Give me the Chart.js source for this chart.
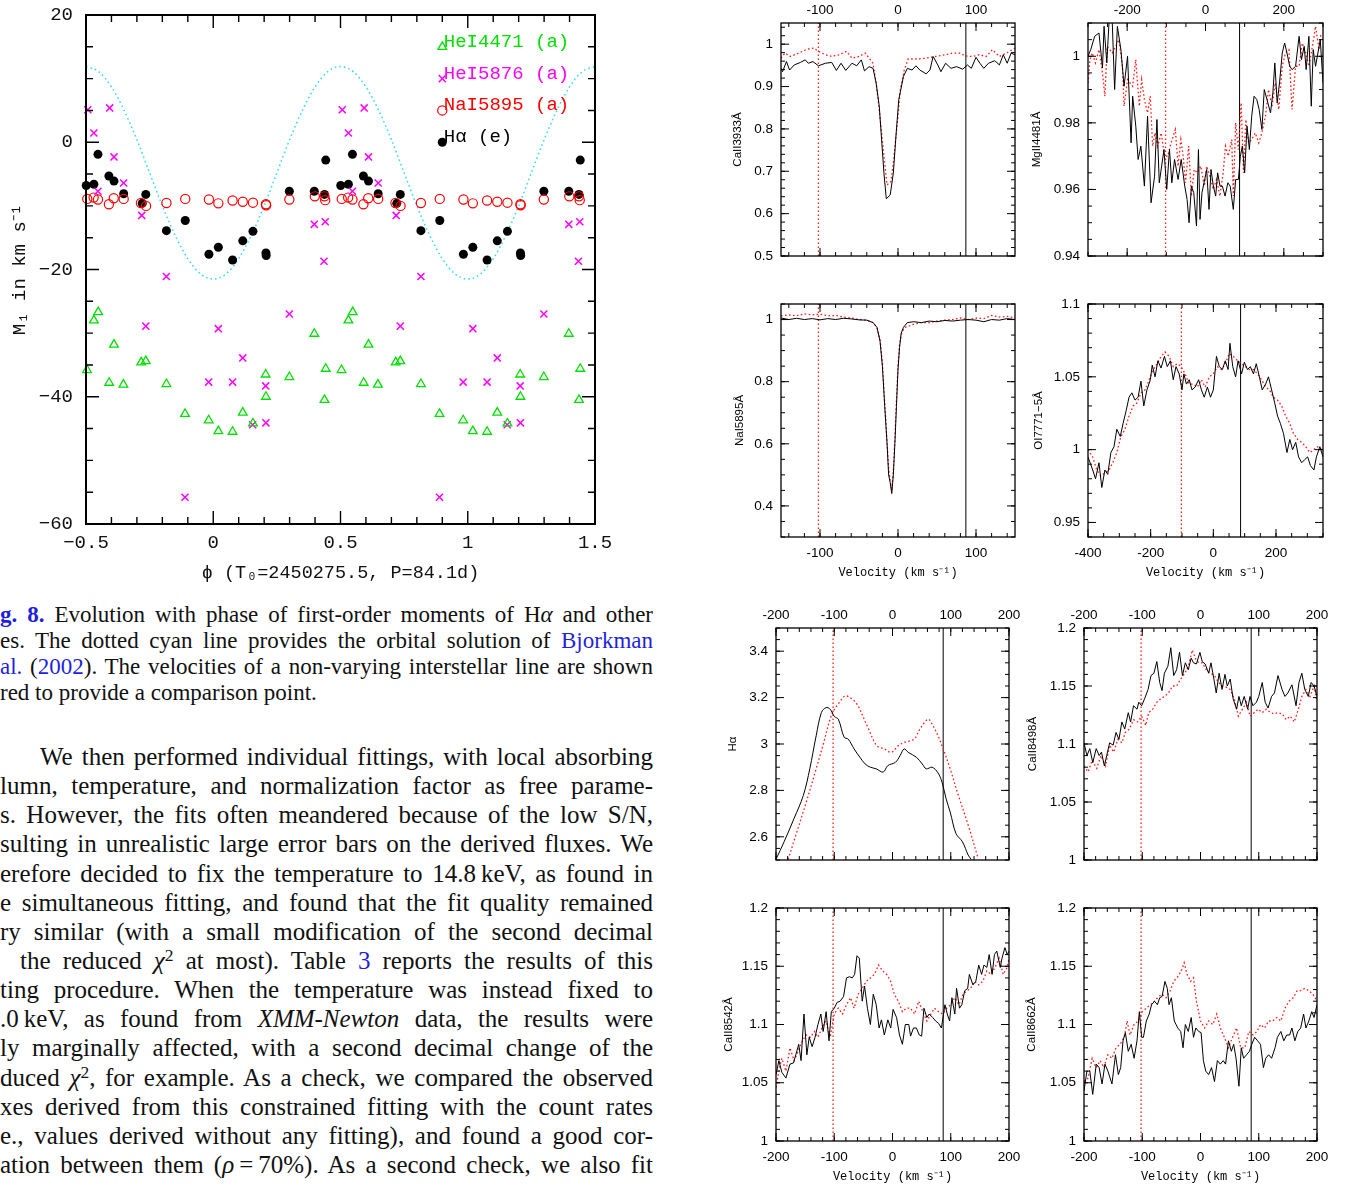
<!DOCTYPE html>
<html lang="en">
<head>
<meta charset="utf-8">
<title>Phase moments and line profiles</title>
<script src="https://cdn.jsdelivr.net/npm/chart.js@4.4.1/dist/chart.umd.min.js"></script>
<style>
  html, body { margin: 0; padding: 0; background: #fff; }
  body { position: relative; width: 1347px; height: 1186px; overflow: hidden; }
  canvas { position: absolute; }
  .ln { position: absolute; left: 0; width: 653px; font-family: "Liberation Serif", "Times New Roman", serif; color: #111; text-align: justify; text-align-last: justify; overflow: hidden; white-space: normal; }
  .cap { font-size: 23px; line-height: 26px; height: 26px; }
  .par { font-size: 25px; line-height: 29px; height: 29px; }
  .end { text-align-last: left; }
  .blue { color: #1f1fe0; }
  sup { font-size: 0.7em; line-height: 0; vertical-align: 0.45em; }
</style>
</head>
<body>

<div class="ln cap" style="top:602px"><b class="blue">g. 8.</b> Evolution with phase of first-order moments of H<i>α</i> and other</div>
<div class="ln cap" style="top:628px">es. The dotted cyan line provides the orbital solution of <span class="blue">Bjorkman</span></div>
<div class="ln cap" style="top:654px"><span class="blue">al.</span> (<span class="blue">2002</span>). The velocities of a non-varying interstellar line are shown</div>
<div class="ln cap end" style="top:680px">red to provide a comparison point.</div>

<div class="ln par" style="top:742px;left:40px;width:613px">We then performed individual fittings, with local absorbing</div>
<div class="ln par" style="top:771px">lumn, temperature, and normalization factor as free parame-</div>
<div class="ln par" style="top:800px">s. However, the fits often meandered because of the low S/N,</div>
<div class="ln par" style="top:829px">sulting in unrealistic large error bars on the derived fluxes. We</div>
<div class="ln par" style="top:859px">erefore decided to fix the temperature to 14.8&thinsp;keV, as found in</div>
<div class="ln par" style="top:888px">e simultaneous fitting, and found that the fit quality remained</div>
<div class="ln par" style="top:917px">ry similar (with a small modification of the second decimal</div>
<div class="ln par" style="top:946px;left:20px;width:633px">the reduced <i>χ</i><sup>2</sup> at most). Table <span class="blue">3</span> reports the results of this</div>
<div class="ln par" style="top:975px">ting procedure. When the temperature was instead fixed to</div>
<div class="ln par" style="top:1004px">.0&thinsp;keV, as found from <i>XMM-Newton</i> data, the results were</div>
<div class="ln par" style="top:1033px">ly marginally affected, with a second decimal change of the</div>
<div class="ln par" style="top:1063px">duced <i>χ</i><sup>2</sup>, for example. As a check, we compared the observed</div>
<div class="ln par" style="top:1092px">xes derived from this constrained fitting with the count rates</div>
<div class="ln par" style="top:1121px">e., values derived without any fitting), and found a good cor-</div>
<div class="ln par" style="top:1150px">ation between them (<i>ρ</i>&thinsp;=&thinsp;70%). As a second check, we also fit</div>

<script>
// ---- main figure: first-order moments (km/s) against orbital phase ----
const phaseTicks = [-0.5, 0, 0.5, 1, 1.5];
const momentTicks = [-60, -40, -20, 0, 20];

// orbital solution (dotted cyan)
const orbitPhase = [-0.5, -0.45, -0.4, -0.35, -0.3, -0.25, -0.2, -0.15, -0.1, -0.05, 0,
  0.05, 0.1, 0.15, 0.2, 0.25, 0.3, 0.35, 0.4, 0.45, 0.5,
  0.55, 0.6, 0.65, 0.7, 0.75, 0.8, 0.85, 0.9, 0.95, 1,
  1.05, 1.1, 1.15, 1.2, 1.25, 1.3, 1.35, 1.4, 1.45, 1.5];
const orbitVel = [11.9, 11.1, 8.7, 5.0, 0.4, -4.8, -10.0, -14.6, -18.3, -20.7, -21.5,
  -20.7, -18.3, -14.6, -10.0, -4.8, 0.4, 5.0, 8.7, 11.1, 11.9,
  11.1, 8.7, 5.0, 0.4, -4.8, -10.0, -14.6, -18.3, -20.7, -21.5,
  -20.7, -18.3, -14.6, -10.0, -4.8, 0.4, 5.0, 8.7, 11.1, 11.9];

// measurements [phase, moment], phase in [-0.5, 0.5); shown again one cycle later
const heI4471 = [[-0.496, -35.8], [-0.469, -28.0], [-0.452, -26.7], [-0.409, -37.8], [-0.390, -31.8],
  [-0.353, -38.1], [-0.283, -34.6], [-0.265, -34.4], [-0.184, -38.0], [-0.111, -42.7], [-0.018, -43.7],
  [0.020, -45.4], [0.076, -45.5], [0.116, -42.5], [0.156, -44.2], [0.206, -36.5], [0.207, -40.0],
  [0.299, -36.9], [0.397, -30.1], [0.437, -40.5], [0.442, -35.6]];
const heI5876 = [[-0.493, 5.1], [-0.469, 1.45], [-0.453, -7.7], [-0.407, 5.4], [-0.390, -2.3],
  [-0.352, -6.4], [-0.281, -11.5], [-0.265, -28.9], [-0.184, -21.1], [-0.111, -55.8], [-0.018, -37.7],
  [0.020, -29.3], [0.076, -37.7], [0.116, -33.9], [0.155, -44.4], [0.206, -38.3], [0.207, -44.1],
  [0.299, -27.0], [0.397, -12.9], [0.435, -18.7], [0.440, -12.5]];
const naI5895 = [[-0.495, -8.9], [-0.470, -8.7], [-0.453, -9.0], [-0.410, -9.75], [-0.391, -8.8],
  [-0.352, -8.9], [-0.284, -9.55], [-0.264, -10.0], [-0.184, -9.55], [-0.110, -8.9], [-0.017, -9.0],
  [0.020, -9.6], [0.076, -9.15], [0.116, -9.35], [0.156, -9.5], [0.207, -9.75], [0.208, -9.9],
  [0.299, -9.0], [0.399, -8.5], [0.437, -8.5], [0.440, -9.1]];
const hAlpha = [[-0.499, -6.8], [-0.469, -6.6], [-0.453, -1.9], [-0.410, -5.3], [-0.390, -6.1],
  [-0.352, -8.1], [-0.279, -9.6], [-0.265, -8.2], [-0.184, -13.9], [-0.110, -12.3], [-0.017, -17.6],
  [0.020, -16.5], [0.076, -18.5], [0.116, -15.5], [0.156, -14.0], [0.207, -17.4], [0.208, -17.8],
  [0.299, -7.7], [0.397, -7.7], [0.437, -8.2], [0.442, -2.8]];

// ---- line profile panels: [velocity km/s, normalised flux] ----
const redMarkerVel = -102;
const blackMarkerVel = 87;

const velTicks150 = [-100, 0, 100];
const velTicks300 = [-200, 0, 200];
const velTicksOI = [-400, -200, 0, 200];
const velTicks200 = [-200, -100, 0, 100, 200];
const ca3933Ticks = [0.5, 0.6, 0.7, 0.8, 0.9, 1];
const mg4481Ticks = [0.94, 0.96, 0.98, 1];
const na5895Ticks = [0.4, 0.6, 0.8, 1];
const oi7771Ticks = [0.95, 1, 1.05, 1.1];
const hAlphaTicks = [2.6, 2.8, 3, 3.2, 3.4];
const caTripletTicks = [1, 1.05, 1.1, 1.15, 1.2];

const ca3933Black = [[-150, 0.943], [-148, 0.935], [-143, 0.959], [-139, 0.939], [-133, 0.951], [-125, 0.957],
  [-119, 0.963], [-115, 0.955], [-109, 0.959], [-102, 0.949], [-93, 0.955], [-85, 0.957], [-79, 0.938],
  [-73, 0.955], [-67, 0.938], [-59, 0.955], [-53, 0.949], [-47, 0.963], [-43, 0.937], [-37, 0.947],
  [-32, 0.943], [-28, 0.908], [-24, 0.853], [-21, 0.774], [-18, 0.695], [-15, 0.635], [-10, 0.644],
  [-6, 0.695], [-3, 0.774], [1, 0.869], [7, 0.924], [12, 0.943], [18, 0.939], [23, 0.949], [28, 0.939],
  [36, 0.930], [41, 0.939], [45, 0.971], [51, 0.951], [55, 0.935], [61, 0.955], [68, 0.943], [75, 0.947],
  [83, 0.941], [89, 0.951], [94, 0.943], [100, 0.969], [105, 0.955], [110, 0.943], [116, 0.955],
  [124, 0.961], [130, 0.951], [135, 0.975], [140, 0.955], [145, 0.979], [150, 0.975]];
const ca3933Red = [[-150, 0.967], [-145, 0.979], [-138, 0.971], [-127, 0.979], [-117, 0.988], [-108, 0.991],
  [-102, 0.983], [-93, 0.975], [-85, 0.971], [-76, 0.975], [-66, 0.983], [-59, 0.967], [-50, 0.971],
  [-42, 0.979], [-37, 0.967], [-32, 0.955], [-28, 0.908], [-24, 0.845], [-18, 0.735], [-14, 0.668],
  [-9, 0.676], [-5, 0.735], [-1, 0.813], [3, 0.892], [8, 0.939], [13, 0.965], [23, 0.965], [36, 0.967],
  [48, 0.971], [61, 0.975], [70, 0.979], [79, 0.979], [87, 0.972], [96, 0.971], [104, 0.975], [113, 0.971],
  [121, 0.987], [130, 0.971], [139, 0.979], [150, 0.991]];

const mg4481Black = [[-300, 1.0], [-293, 1.002], [-283, 1.006], [-272, 1.007], [-263, 0.9965], [-259, 1.009],
  [-252, 0.998], [-246, 1.011], [-238, 1.010], [-232, 0.990], [-225, 1.009], [-216, 1.002], [-208, 0.991],
  [-199, 1.0], [-190, 0.974], [-186, 0.988], [-178, 0.979], [-172, 0.969], [-165, 0.973], [-156, 0.961],
  [-148, 0.982], [-139, 0.956], [-130, 0.964], [-124, 0.981], [-118, 0.962], [-106, 0.972], [-99, 0.960],
  [-92, 0.972], [-86, 0.962], [-79, 0.969], [-70, 0.963], [-62, 0.969], [-53, 0.961], [-47, 0.957],
  [-42, 0.950], [-36, 0.961], [-30, 0.959], [-23, 0.949], [-18, 0.972], [-14, 0.951], [-9, 0.959],
  [-2, 0.963], [3, 0.966], [9, 0.954], [14, 0.966], [20, 0.961], [26, 0.958], [31, 0.965], [37, 0.961],
  [43, 0.961], [50, 0.958], [57, 0.962], [63, 0.961], [71, 0.954], [77, 0.963], [84, 0.963], [89, 0.970],
  [94, 0.973], [100, 0.965], [106, 0.979], [112, 0.972], [118, 0.982], [124, 0.988], [131, 0.987],
  [137, 0.984], [144, 0.978], [150, 0.990], [157, 0.987], [166, 0.983], [172, 0.989], [177, 0.998],
  [183, 0.986], [189, 0.992], [196, 1.001], [202, 1.004], [208, 1.001], [215, 0.997], [221, 0.996],
  [230, 0.997], [239, 1.006], [245, 0.999], [252, 1.003], [257, 0.996], [264, 1.006], [270, 0.985],
  [275, 1.002], [281, 0.997], [287, 1.001], [293, 1.005], [300, 0.992]];
const mg4481Red = [[-300, 0.992], [-295, 0.999], [-289, 1.001], [-281, 0.998], [-272, 1.002], [-263, 0.995],
  [-257, 0.988], [-251, 1.003], [-238, 1.001], [-225, 1.004], [-221, 1.005], [-212, 0.997], [-208, 0.985],
  [-199, 0.993], [-186, 0.991], [-178, 0.999], [-169, 0.985], [-163, 0.993], [-156, 0.987], [-148, 0.983],
  [-141, 0.988], [-135, 0.973], [-129, 0.977], [-122, 0.973], [-113, 0.977], [-105, 0.970], [-96, 0.970],
  [-88, 0.974], [-77, 0.978], [-70, 0.967], [-63, 0.975], [-57, 0.970], [-51, 0.962], [-43, 0.973],
  [-36, 0.958], [-29, 0.966], [-21, 0.965], [-12, 0.967], [-3, 0.961], [3, 0.967], [11, 0.964], [20, 0.960],
  [28, 0.963], [37, 0.958], [45, 0.965], [51, 0.973], [58, 0.970], [67, 0.975], [71, 0.958], [77, 0.980],
  [84, 0.972], [91, 0.986], [97, 0.965], [103, 0.981], [110, 0.974], [118, 0.975], [127, 0.977],
  [136, 0.974], [144, 0.977], [153, 0.982], [161, 0.990], [170, 0.985], [178, 0.992], [187, 0.984],
  [196, 0.997], [204, 1.001], [213, 1.002], [221, 0.984], [230, 0.997], [239, 0.997], [247, 1.004],
  [256, 1.001], [264, 0.997], [273, 1.003], [281, 1.009], [290, 1.002], [295, 1.007]];

const na5895Black = [[-150, 1.005], [-140, 1.0], [-130, 1.004], [-120, 1.0], [-110, 1.003], [-100, 0.999],
  [-90, 1.003], [-80, 1.0], [-70, 1.004], [-60, 1.002], [-50, 0.999], [-40, 0.998], [-32, 0.99],
  [-27, 0.975], [-23, 0.93], [-20, 0.85], [-17, 0.72], [-14, 0.6], [-12, 0.5], [-10, 0.475], [-8, 0.44],
  [-6, 0.5], [-4, 0.6], [-2, 0.72], [0, 0.84], [2, 0.91], [4, 0.955], [7, 0.975], [12, 0.99], [20, 0.993],
  [30, 0.99], [40, 0.995], [50, 0.993], [60, 0.997], [70, 0.995], [80, 0.998], [90, 1.0], [100, 0.998],
  [110, 0.993], [120, 1.0], [130, 0.998], [140, 1.003], [150, 1.0]];
const na5895Red = [[-150, 1.012], [-140, 1.015], [-130, 1.012], [-120, 1.018], [-110, 1.015], [-100, 1.017],
  [-90, 1.012], [-80, 1.013], [-70, 1.008], [-60, 1.005], [-50, 1.0], [-40, 0.998], [-32, 0.99],
  [-27, 0.975], [-23, 0.935], [-20, 0.86], [-17, 0.73], [-14, 0.6], [-12, 0.52], [-10, 0.48], [-8, 0.45],
  [-6, 0.51], [-4, 0.62], [-2, 0.74], [0, 0.85], [2, 0.92], [5, 0.96], [9, 0.975], [15, 0.98], [20, 0.985],
  [30, 0.99], [40, 0.99], [50, 0.995], [60, 0.998], [70, 1.0], [80, 1.005], [90, 1.0], [100, 1.005],
  [110, 1.003], [120, 1.013], [130, 1.008], [140, 1.01], [150, 1.005]];

const oi7771Black = [[-400, 0.995], [-385, 0.986], [-376, 0.980], [-365, 0.991], [-356, 0.974], [-346, 0.986],
  [-337, 0.983], [-327, 0.998], [-317, 1.002], [-308, 1.014], [-297, 1.009], [-288, 1.018], [-278, 1.027],
  [-269, 1.036], [-260, 1.039], [-250, 1.034], [-240, 1.036], [-231, 1.047], [-222, 1.030], [-212, 1.041],
  [-201, 1.048], [-195, 1.058], [-186, 1.050], [-177, 1.061], [-167, 1.056], [-156, 1.064], [-147, 1.057],
  [-137, 1.061], [-128, 1.048], [-119, 1.057], [-109, 1.052], [-100, 1.041], [-94, 1.052], [-86, 1.045],
  [-77, 1.048], [-68, 1.041], [-58, 1.043], [-47, 1.048], [-38, 1.041], [-29, 1.036], [-19, 1.043],
  [-9, 1.036], [0, 1.041], [10, 1.064], [19, 1.057], [29, 1.055], [38, 1.061], [47, 1.055], [53, 1.073],
  [62, 1.057], [71, 1.050], [79, 1.061], [90, 1.052], [99, 1.060], [109, 1.055], [118, 1.057], [128, 1.052],
  [137, 1.059], [147, 1.050], [156, 1.041], [167, 1.045], [176, 1.050], [186, 1.041], [196, 1.032],
  [205, 1.023], [214, 1.018], [224, 1.011], [235, 0.998], [244, 1.007], [253, 1.000], [263, 1.005],
  [272, 0.995], [282, 0.991], [291, 0.993], [301, 0.995], [310, 0.989], [321, 0.986], [329, 0.995],
  [340, 1.002], [350, 0.995]];
const oi7771Red = [[-400, 1.0], [-385, 0.995], [-372, 0.986], [-359, 0.982], [-346, 0.984], [-333, 0.986],
  [-321, 0.991], [-308, 0.998], [-295, 1.009], [-282, 1.014], [-269, 1.023], [-256, 1.030], [-244, 1.032],
  [-231, 1.039], [-218, 1.041], [-205, 1.048], [-192, 1.055], [-179, 1.059], [-167, 1.064], [-154, 1.067],
  [-141, 1.064], [-128, 1.057], [-115, 1.059], [-103, 1.057], [-90, 1.052], [-77, 1.045], [-64, 1.045],
  [-51, 1.043], [-38, 1.048], [-26, 1.043], [-13, 1.050], [0, 1.052], [13, 1.057], [26, 1.055], [38, 1.059],
  [51, 1.066], [64, 1.064], [77, 1.061], [90, 1.059], [103, 1.057], [115, 1.055], [128, 1.055], [141, 1.052],
  [154, 1.048], [167, 1.043], [179, 1.041], [192, 1.036], [205, 1.034], [218, 1.030], [231, 1.023],
  [244, 1.018], [256, 1.011], [269, 1.007], [282, 1.005], [295, 1.002], [308, 0.998], [321, 1.0],
  [333, 1.002], [346, 1.0]];

const hAlphaBlack = [[-200, 2.503], [-186, 2.579], [-169, 2.679], [-153, 2.779], [-142, 2.893], [-131, 3.036],
  [-122, 3.136], [-114, 3.157], [-107, 3.150], [-100, 3.119], [-93, 3.107], [-83, 3.029], [-76, 3.021],
  [-66, 2.979], [-56, 2.943], [-47, 2.914], [-38, 2.900], [-28, 2.893], [-16, 2.879], [-8, 2.907],
  [5, 2.921], [13, 2.950], [20, 2.979], [27, 2.964], [41, 2.943], [51, 2.914], [58, 2.893], [68, 2.900],
  [78, 2.876], [85, 2.836], [92, 2.764], [99, 2.707], [109, 2.614], [120, 2.579], [130, 2.521], [135, 2.503]];
const hAlphaRed = [[-179, 2.503], [-166, 2.607], [-148, 2.750], [-131, 2.893], [-118, 3.007], [-104, 3.129],
  [-91, 3.179], [-81, 3.207], [-69, 3.193], [-59, 3.164], [-50, 3.114], [-41, 3.064], [-27, 2.993],
  [-14, 2.979], [-2, 2.964], [10, 2.993], [20, 3.007], [37, 3.021], [47, 3.064], [61, 3.107], [68, 3.086],
  [78, 3.036], [87, 2.979], [99, 2.893], [113, 2.779], [130, 2.650], [147, 2.507]];

const ca8498Black = [[-200, 1.101], [-195, 1.090], [-190, 1.096], [-185, 1.084], [-179, 1.096], [-174, 1.090],
  [-170, 1.093], [-165, 1.081], [-161, 1.090], [-156, 1.101], [-150, 1.099], [-145, 1.110], [-140, 1.104],
  [-135, 1.119], [-130, 1.113], [-124, 1.127], [-120, 1.119], [-115, 1.133], [-109, 1.130], [-106, 1.136],
  [-101, 1.133], [-96, 1.139], [-90, 1.147], [-85, 1.159], [-80, 1.161], [-75, 1.171], [-70, 1.153],
  [-66, 1.146], [-62, 1.161], [-56, 1.167], [-51, 1.183], [-46, 1.159], [-41, 1.164], [-36, 1.179],
  [-31, 1.159], [-26, 1.170], [-21, 1.164], [-16, 1.174], [-12, 1.170], [-7, 1.169], [-1, 1.179],
  [3, 1.171], [8, 1.169], [14, 1.161], [18, 1.170], [23, 1.156], [27, 1.144], [32, 1.161], [37, 1.147],
  [42, 1.160], [46, 1.150], [51, 1.156], [56, 1.139], [62, 1.130], [66, 1.141], [70, 1.133], [75, 1.141],
  [81, 1.130], [85, 1.141], [90, 1.133], [96, 1.136], [100, 1.141], [106, 1.153], [111, 1.136], [116, 1.131],
  [122, 1.141], [127, 1.144], [133, 1.159], [140, 1.147], [145, 1.141], [150, 1.144], [157, 1.151],
  [164, 1.133], [169, 1.153], [174, 1.161], [179, 1.147], [185, 1.141], [190, 1.153], [195, 1.150],
  [200, 1.141]];
const ca8498Red = [[-200, 1.081], [-193, 1.076], [-186, 1.086], [-178, 1.079], [-171, 1.090], [-163, 1.081],
  [-156, 1.099], [-149, 1.093], [-142, 1.104], [-135, 1.101], [-129, 1.110], [-122, 1.113], [-115, 1.121],
  [-108, 1.119], [-101, 1.124], [-94, 1.116], [-89, 1.127], [-82, 1.130], [-75, 1.136], [-68, 1.139],
  [-62, 1.141], [-55, 1.144], [-48, 1.150], [-41, 1.150], [-34, 1.156], [-27, 1.161], [-21, 1.167],
  [-14, 1.181], [-8, 1.173], [-3, 1.170], [3, 1.170], [10, 1.164], [17, 1.161], [24, 1.159], [31, 1.153],
  [38, 1.150], [44, 1.149], [51, 1.147], [58, 1.139], [65, 1.124], [72, 1.130], [79, 1.136], [85, 1.124],
  [92, 1.127], [99, 1.130], [106, 1.127], [113, 1.130], [120, 1.127], [126, 1.126], [133, 1.127],
  [140, 1.126], [147, 1.121], [154, 1.124], [161, 1.119], [168, 1.130], [174, 1.141], [181, 1.147],
  [188, 1.141], [195, 1.150], [200, 1.136]];

const ca8542Black = [[-200, 1.057], [-195, 1.069], [-190, 1.059], [-183, 1.054], [-176, 1.066], [-170, 1.067],
  [-166, 1.074], [-161, 1.083], [-157, 1.069], [-152, 1.109], [-147, 1.074], [-143, 1.089], [-138, 1.081],
  [-133, 1.089], [-128, 1.100], [-123, 1.109], [-119, 1.094], [-114, 1.111], [-109, 1.086], [-105, 1.111],
  [-100, 1.114], [-95, 1.119], [-90, 1.120], [-84, 1.124], [-79, 1.140], [-74, 1.141], [-69, 1.140],
  [-65, 1.143], [-61, 1.159], [-57, 1.157], [-52, 1.120], [-48, 1.133], [-43, 1.114], [-38, 1.100],
  [-33, 1.126], [-28, 1.117], [-23, 1.097], [-19, 1.104], [-14, 1.091], [-8, 1.104], [-3, 1.097],
  [1, 1.113], [7, 1.106], [12, 1.091], [17, 1.083], [22, 1.100], [28, 1.100], [31, 1.090], [36, 1.097],
  [41, 1.097], [46, 1.091], [50, 1.090], [54, 1.114], [59, 1.106], [63, 1.109], [69, 1.106], [74, 1.103],
  [79, 1.101], [84, 1.097], [90, 1.117], [94, 1.109], [98, 1.103], [102, 1.123], [107, 1.109], [110, 1.131],
  [115, 1.114], [119, 1.117], [124, 1.129], [129, 1.131], [132, 1.143], [138, 1.134], [143, 1.137],
  [148, 1.151], [153, 1.143], [157, 1.151], [162, 1.149], [166, 1.160], [171, 1.143], [175, 1.160],
  [179, 1.163], [185, 1.149], [188, 1.157], [193, 1.166], [197, 1.160], [200, 1.163]];
const ca8542Red = [[-200, 1.046], [-194, 1.063], [-190, 1.071], [-183, 1.060], [-176, 1.080], [-169, 1.069],
  [-162, 1.077], [-155, 1.086], [-148, 1.091], [-141, 1.089], [-134, 1.094], [-128, 1.089], [-121, 1.097],
  [-114, 1.103], [-107, 1.089], [-100, 1.109], [-93, 1.114], [-86, 1.109], [-79, 1.117], [-72, 1.123],
  [-66, 1.114], [-59, 1.126], [-52, 1.131], [-45, 1.137], [-38, 1.140], [-31, 1.143], [-24, 1.151],
  [-17, 1.146], [-10, 1.143], [-3, 1.137], [3, 1.126], [10, 1.120], [17, 1.111], [24, 1.114], [31, 1.114],
  [38, 1.109], [45, 1.120], [52, 1.111], [59, 1.103], [66, 1.109], [72, 1.114], [79, 1.111], [86, 1.109],
  [93, 1.114], [100, 1.117], [107, 1.123], [114, 1.117], [121, 1.126], [128, 1.129], [134, 1.131],
  [141, 1.137], [148, 1.134], [155, 1.137], [162, 1.146], [169, 1.143], [176, 1.149], [183, 1.157],
  [190, 1.143], [197, 1.149], [200, 1.157]];

const ca8662Black = [[-200, 1.043], [-195, 1.060], [-190, 1.060], [-185, 1.040], [-179, 1.066], [-174, 1.063],
  [-169, 1.049], [-164, 1.066], [-159, 1.060], [-152, 1.049], [-146, 1.074], [-141, 1.057], [-137, 1.063],
  [-133, 1.086], [-129, 1.093], [-124, 1.077], [-119, 1.083], [-114, 1.071], [-109, 1.086], [-105, 1.111],
  [-101, 1.089], [-98, 1.089], [-93, 1.103], [-88, 1.109], [-84, 1.117], [-79, 1.120], [-74, 1.117],
  [-70, 1.123], [-66, 1.124], [-61, 1.137], [-57, 1.131], [-54, 1.117], [-50, 1.123], [-45, 1.103],
  [-39, 1.097], [-34, 1.094], [-30, 1.080], [-26, 1.100], [-21, 1.094], [-16, 1.106], [-12, 1.089],
  [-8, 1.097], [-3, 1.094], [1, 1.093], [5, 1.069], [9, 1.060], [14, 1.057], [19, 1.063], [24, 1.051],
  [29, 1.069], [34, 1.066], [39, 1.069], [43, 1.066], [48, 1.086], [53, 1.077], [57, 1.083], [61, 1.071],
  [66, 1.047], [70, 1.080], [74, 1.071], [79, 1.074], [84, 1.077], [88, 1.083], [93, 1.089], [98, 1.086],
  [103, 1.083], [108, 1.063], [112, 1.071], [117, 1.074], [122, 1.071], [128, 1.080], [132, 1.089],
  [138, 1.094], [143, 1.086], [148, 1.091], [153, 1.091], [157, 1.097], [162, 1.086], [167, 1.094],
  [172, 1.097], [177, 1.109], [181, 1.097], [186, 1.103], [191, 1.111], [195, 1.106], [200, 1.117]];
const ca8662Red = [[-200, 1.051], [-193, 1.054], [-186, 1.071], [-179, 1.063], [-172, 1.069], [-166, 1.063],
  [-159, 1.074], [-152, 1.071], [-145, 1.080], [-138, 1.083], [-131, 1.089], [-126, 1.103], [-121, 1.091],
  [-114, 1.100], [-107, 1.103], [-100, 1.111], [-93, 1.114], [-86, 1.117], [-79, 1.120], [-72, 1.124],
  [-66, 1.126], [-59, 1.123], [-52, 1.129], [-46, 1.137], [-39, 1.141], [-33, 1.146], [-28, 1.153],
  [-23, 1.143], [-17, 1.137], [-12, 1.140], [-7, 1.120], [0, 1.103], [7, 1.097], [14, 1.103], [21, 1.100],
  [28, 1.109], [34, 1.097], [41, 1.089], [48, 1.080], [55, 1.089], [62, 1.097], [69, 1.080], [76, 1.080],
  [83, 1.094], [90, 1.091], [97, 1.094], [103, 1.100], [110, 1.097], [117, 1.103], [124, 1.103],
  [131, 1.106], [138, 1.103], [145, 1.114], [152, 1.120], [159, 1.123], [166, 1.129], [172, 1.129],
  [179, 1.131], [186, 1.129], [193, 1.126], [200, 1.120]];

// ---- helpers ----
Chart.defaults.color = '#000';

function addCanvas(left, top, width, height) {
  const c = document.createElement('canvas');
  c.width = width;
  c.height = height;
  c.style.left = left + 'px';
  c.style.top = top + 'px';
  c.style.width = width + 'px';
  c.style.height = height + 'px';
  document.body.appendChild(c);
  return c;
}

// fixed axis box, no extra room asked for overhanging labels
const fixBox = (w, h) => s => {
  if (w !== null) s.width = w;
  if (h !== null) s.height = h;
  s.paddingTop = 0; s.paddingBottom = 0; s.paddingLeft = 0; s.paddingRight = 0;
};

// PGPLOT-like box: full frame with inward ticks on all four sides
const frameTicks = {
  id: 'frameTicks',
  afterDatasetsDraw(chart, args, o) {
    const { ctx, chartArea: a } = chart;
    const xs = chart.scales.x, ys = chart.scales.y;
    const steps = (min, max, step) => {
      const out = [];
      for (let k = Math.ceil(min / step - 1e-6); k <= Math.floor(max / step + 1e-6); k++) out.push(k * step);
      return out;
    };
    const vTick = (v, len) => {
      const p = xs.getPixelForValue(v);
      ctx.moveTo(p, a.bottom); ctx.lineTo(p, a.bottom - len);
      ctx.moveTo(p, a.top); ctx.lineTo(p, a.top + len);
    };
    const hTick = (v, len) => {
      const p = ys.getPixelForValue(v);
      ctx.moveTo(a.left, p); ctx.lineTo(a.left + len, p);
      ctx.moveTo(a.right, p); ctx.lineTo(a.right - len, p);
    };
    ctx.save();
    ctx.strokeStyle = '#000';
    ctx.lineWidth = o.tickWidth;
    ctx.beginPath();
    steps(xs.min, xs.max, o.xMinor).forEach(v => vTick(v, o.minorLen));
    xs.ticks.forEach(t => vTick(t.value, o.majorLen));
    steps(ys.min, ys.max, o.yMinor).forEach(v => hTick(v, o.minorLen));
    ys.ticks.forEach(t => hTick(t.value, o.majorLen));
    ctx.stroke();
    ctx.lineWidth = o.frameWidth;
    ctx.strokeRect(a.left, a.top, a.width, a.height);
    ctx.restore();
  }
};

// legend written inside the plot, marker at the lower left of each label
const phaseLegend = {
  id: 'phaseLegend',
  afterDatasetsDraw(chart, args, o) {
    const { ctx } = chart;
    const xs = chart.scales.x, ys = chart.scales.y;
    ctx.save();
    ctx.font = o.font;
    ctx.textBaseline = 'alphabetic';
    o.rows.forEach((row, i) => {
      const ds = chart.data.datasets[i];
      const x = xs.getPixelForValue(o.phase);
      const y = ys.getPixelForValue(row);
      ctx.fillStyle = ds.backgroundColor;
      ctx.strokeStyle = ds.borderColor;
      ctx.lineWidth = ds.borderWidth;
      Chart.helpers.drawPoint(ctx, { pointStyle: ds.pointStyle, radius: ds.pointRadius, borderWidth: ds.borderWidth, rotation: 0 }, x, y);
      ctx.fillStyle = ds.borderColor;
      ctx.fillText(ds.label, x + 1.5, y);
    });
    ctx.restore();
  }
};

const unfold = pts => pts.flatMap(([p, v]) => [{ x: p, y: v }, { x: p + 1, y: v }]);
const minusSign = v => (v < 0 ? '\u2212' : '') + Math.abs(v);

// ---- main figure ----
const mainFont = { family: 'Liberation Mono', size: 19 };
new Chart(addCanvas(0, 0, 625, 595), {
  type: 'scatter',
  data: {
    datasets: [
      { label: 'HeI4471 (a)', data: unfold(heI4471), pointStyle: 'triangle', pointRadius: 5, borderWidth: 1.3,
        borderColor: '#00e000', backgroundColor: 'rgba(0,0,0,0)', order: 1, clip: 10 },
      { label: 'HeI5876 (a)', data: unfold(heI5876), pointStyle: 'crossRot', pointRadius: 5, borderWidth: 1.5,
        borderColor: '#ff00ff', backgroundColor: '#ff00ff', order: 2, clip: 10 },
      { label: 'NaI5895 (a)', data: unfold(naI5895), pointStyle: 'circle', pointRadius: 4.6, borderWidth: 1.2,
        borderColor: '#ff0000', backgroundColor: 'rgba(0,0,0,0)', order: 3, clip: 10 },
      { label: 'H\u03b1 (e)', data: unfold(hAlpha), pointStyle: 'circle', pointRadius: 4.5, borderWidth: 0,
        borderColor: '#000', backgroundColor: '#000', order: 4, clip: 10 },
      { type: 'line', label: 'orbit', data: orbitPhase.map((p, i) => ({ x: p, y: orbitVel[i] })), showLine: true,
        borderColor: '#3cdcef', borderWidth: 1.6, borderDash: [1.6, 3], pointRadius: 0,
        cubicInterpolationMode: 'monotone', order: 5 }
    ]
  },
  options: {
    responsive: false, animation: false, events: [], devicePixelRatio: 1,
    layout: { padding: { top: 15, right: 30, left: 0, bottom: 0 } },
    plugins: {
      legend: { display: false }, tooltip: { enabled: false },
      frameTicks: { xMinor: 0.1, yMinor: 5, majorLen: 13, minorLen: 7, tickWidth: 1.4, frameWidth: 2 },
      phaseLegend: { phase: 0.9, rows: [15, 10, 5, 0], font: '19px "Liberation Mono"' }
    },
    scales: {
      x: {
        type: 'linear', min: -0.5, max: 1.5,
        afterBuildTicks: s => { s.ticks = phaseTicks.map(v => ({ value: v })); },
        afterFit: fixBox(null, 71),
        grid: { display: false, drawTicks: false }, border: { display: false },
        ticks: { autoSkip: false, maxRotation: 0, padding: 8, color: '#111', font: mainFont, callback: minusSign },
        title: { display: true, text: '\u03d5 (T\u2080=2450275.5, P=84.1d)', color: '#111',
          font: { family: 'Liberation Mono', size: 18.5 }, padding: { top: 0, bottom: 11 } }
      },
      y: {
        type: 'linear', min: -60, max: 20,
        afterBuildTicks: s => { s.ticks = momentTicks.map(v => ({ value: v })); },
        afterFit: fixBox(86, null),
        grid: { display: false, drawTicks: false }, border: { display: false },
        ticks: { autoSkip: false, padding: 13, color: '#111', font: mainFont, callback: minusSign },
        title: { display: true, text: 'M\u2081 in km s\u207b\u00b9', color: '#111', font: mainFont,
          padding: { top: 9, bottom: 0 } }
      }
    }
  },
  plugins: [frameTicks, phaseLegend]
});

// ---- profile panels ----
const M = { l: 70, r: 24, t: 32, b: 52 };
const panelDefs = [
  { box: [781, 23, 234, 233], xRange: [-150, 150], xTicks: velTicks150, xMinor: 20, yRange: [0.5, 1.05],
    yTicks: ca3933Ticks, yMinor: 0.02, axis: 'top', title: 'CaII3933\u00c5', titleGap: 20, black: ca3933Black, red: ca3933Red },
  { box: [1088, 23, 235, 233], xRange: [-300, 300], xTicks: velTicks300, xMinor: 50, yRange: [0.94, 1.01],
    yTicks: mg4481Ticks, yMinor: 0.005, axis: 'top', title: 'MgII4481\u00c5', titleGap: 12, black: mg4481Black, red: mg4481Red },
  { box: [781, 304, 234, 233], xRange: [-150, 150], xTicks: velTicks150, xMinor: 20, yRange: [0.3, 1.05],
    yTicks: na5895Ticks, yMinor: 0.05, axis: 'bottom', title: 'NaI5895\u00c5', titleGap: 22, black: na5895Black, red: na5895Red },
  { box: [1088, 304, 235, 233], xRange: [-400, 350], xTicks: velTicksOI, xMinor: 50, yRange: [0.94, 1.1],
    yTicks: oi7771Ticks, yMinor: 0.01, axis: 'bottom', title: 'OI7771\u22125\u00c5', titleGap: 14, black: oi7771Black, red: oi7771Red },
  { box: [776, 628, 233, 232], xRange: [-200, 200], xTicks: velTicks200, xMinor: 20, yRange: [2.5, 3.5],
    yTicks: hAlphaTicks, yMinor: 0.05, axis: 'top', title: 'H\u03b1', titleGap: 20, black: hAlphaBlack, red: hAlphaRed, smooth: true },
  { box: [1084, 628, 233, 232], xRange: [-200, 200], xTicks: velTicks200, xMinor: 20, yRange: [1, 1.2],
    yTicks: caTripletTicks, yMinor: 0.01, axis: 'top', title: 'CaII8498\u00c5', titleGap: 12, black: ca8498Black, red: ca8498Red },
  { box: [776, 908, 233, 233], xRange: [-200, 200], xTicks: velTicks200, xMinor: 20, yRange: [1, 1.2],
    yTicks: caTripletTicks, yMinor: 0.01, axis: 'bottom', title: 'CaII8542\u00c5', titleGap: 16, black: ca8542Black, red: ca8542Red },
  { box: [1084, 908, 233, 233], xRange: [-200, 200], xTicks: velTicks200, xMinor: 20, yRange: [1, 1.2],
    yTicks: caTripletTicks, yMinor: 0.01, axis: 'bottom', title: 'CaII8662\u00c5', titleGap: 11, black: ca8662Black, red: ca8662Red }
];

const profile = (pts, color, dotted, smooth) => ({
  data: pts.map(([x, y]) => ({ x, y })),
  borderColor: color,
  borderWidth: dotted ? 1.3 : 1,
  borderDash: dotted ? [1.6, 2.4] : [],
  pointRadius: 0,
  tension: smooth ? 0.35 : 0
});

panelDefs.forEach(p => {
  const [bx, by, bw, bh] = p.box;
  const onTop = p.axis === 'top';
  const canvas = addCanvas(bx - M.l, by - M.t, bw + M.l + M.r, bh + M.t + M.b);
  new Chart(canvas, {
    type: 'line',
    data: {
      datasets: [
        profile(p.black, '#000', false, p.smooth),
        profile(p.red, '#ff1a1a', true, p.smooth),
        profile([[redMarkerVel, p.yRange[0]], [redMarkerVel, p.yRange[1]]], '#ff1a1a', true),
        profile([[blackMarkerVel, p.yRange[0]], [blackMarkerVel, p.yRange[1]]], '#000', false)
      ]
    },
    options: {
      responsive: false, animation: false, events: [], devicePixelRatio: 1,
      layout: { padding: { left: 0, right: M.r, top: onTop ? 0 : M.t, bottom: onTop ? M.b : 0 } },
      plugins: {
        legend: { display: false }, tooltip: { enabled: false },
        frameTicks: { xMinor: p.xMinor, yMinor: p.yMinor, majorLen: 8, minorLen: 4, tickWidth: 1, frameWidth: 1.3 }
      },
      scales: {
        x: {
          type: 'linear', position: p.axis, min: p.xRange[0], max: p.xRange[1],
          afterBuildTicks: s => { s.ticks = p.xTicks.map(v => ({ value: v })); },
          afterFit: fixBox(null, onTop ? M.t : M.b),
          grid: { display: false, drawTicks: false }, border: { display: false },
          ticks: { autoSkip: false, maxRotation: 0, padding: onTop ? 5 : 8, color: '#000',
            font: { family: 'Liberation Sans', size: 13.5 }, callback: v => String(v) },
          title: { display: !onTop, text: 'Velocity (km s\u207b\u00b9)', color: '#000',
            font: { family: 'Liberation Mono', size: 12 }, padding: { top: 0, bottom: 9 } }
        },
        y: {
          type: 'linear', min: p.yRange[0], max: p.yRange[1],
          afterBuildTicks: s => { s.ticks = p.yTicks.map(v => ({ value: v })); },
          afterFit: fixBox(M.l, null),
          grid: { display: false, drawTicks: false }, border: { display: false },
          ticks: { autoSkip: false, padding: 8, color: '#000',
            font: { family: 'Liberation Sans', size: 13.5 }, callback: v => String(v) },
          title: { display: true, text: p.title, color: '#000',
            font: { family: 'Liberation Sans', size: 11.5 }, padding: { top: p.titleGap, bottom: 0 } }
        }
      }
    },
    plugins: [frameTicks]
  });
});
</script>
</body>
</html>
